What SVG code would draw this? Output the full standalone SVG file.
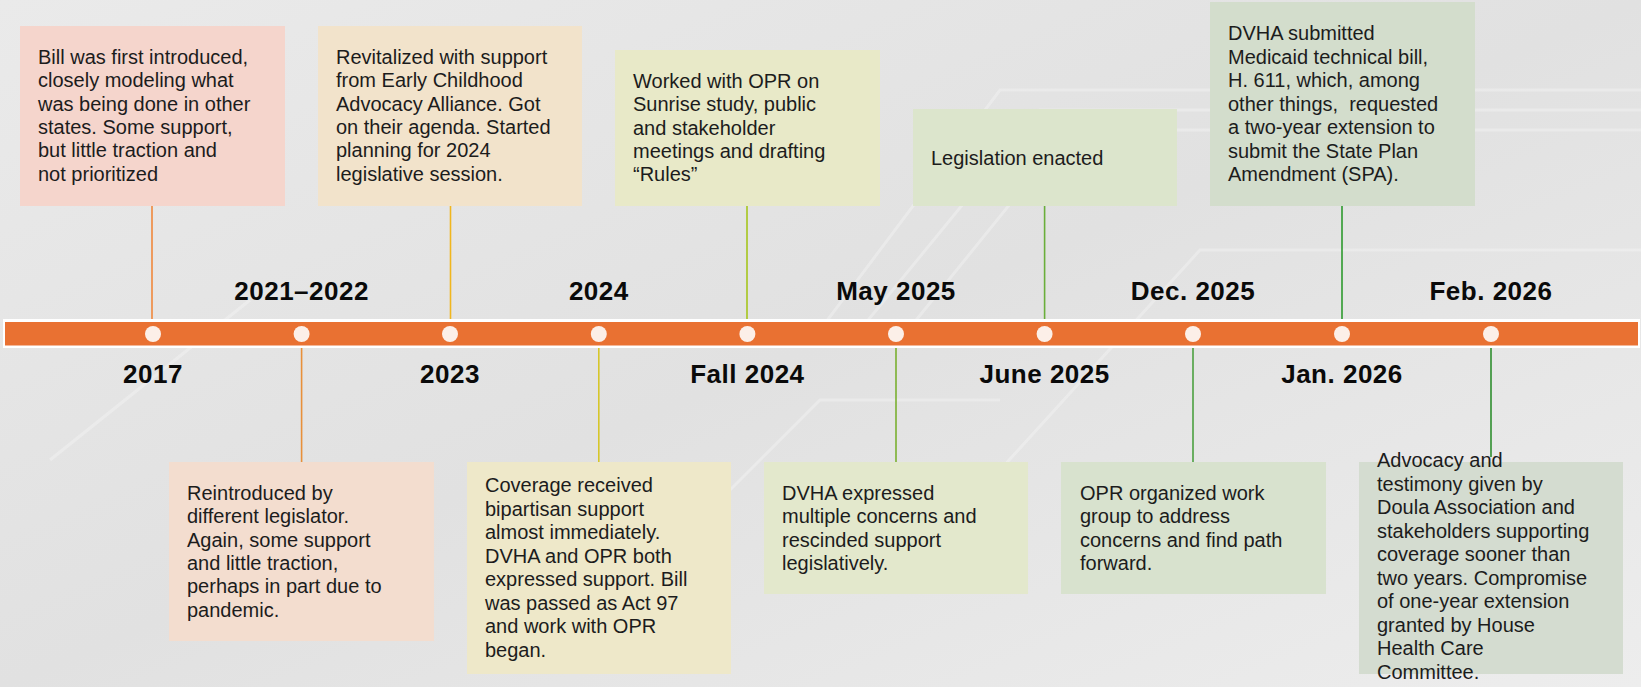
<svg xmlns="http://www.w3.org/2000/svg" width="1641" height="687" viewBox="0 0 1641 687">
<defs>
<linearGradient id="bg" x1="0" y1="0" x2="1" y2="1">
<stop offset="0" stop-color="#eaeaea"/>
<stop offset="0.5" stop-color="#e1e1e1"/>
<stop offset="1" stop-color="#ededed"/>
</linearGradient>
<style>
.box{stroke:none}
.t{font-family:"Liberation Sans",Arial,sans-serif;font-size:20px;fill:#1c1c1c}
.lbl{font-family:"Liberation Sans",Arial,sans-serif;font-weight:bold;font-size:26px;letter-spacing:0.5px;fill:#0a0a0a;text-anchor:middle}
.con{stroke-width:1.6;fill:none}
.dot{fill:#fcefe8}
</style>
</defs>
<rect x="0" y="0" width="1641" height="687" fill="url(#bg)"/>
<g opacity="0.28" stroke="#ffffff" stroke-width="3" fill="none">
<path d="M820 330 L1000 90 L1641 90"/>
<path d="M860 330 L1040 110 L1641 110"/>
<path d="M900 340 L1070 130 L1641 130"/>
<path d="M1000 470 L1200 250 L1641 250"/>
<path d="M600 620 L820 400 L1000 400"/>
<path d="M50 460 L250 300"/>
</g>

<g id="timeline">
<rect x="3" y="319" width="1637" height="29" fill="#ffffff"/>
<rect x="5" y="322" width="1633" height="23.5" fill="#e97132"/>
<circle class="dot" cx="153" cy="334" r="8"/>
<circle class="dot" cx="301.6" cy="334" r="8"/>
<circle class="dot" cx="450" cy="334" r="8"/>
<circle class="dot" cx="598.8" cy="334" r="8"/>
<circle class="dot" cx="747.4" cy="334" r="8"/>
<circle class="dot" cx="896" cy="334" r="8"/>
<circle class="dot" cx="1044.6" cy="334" r="8"/>
<circle class="dot" cx="1193" cy="334" r="8"/>
<circle class="dot" cx="1342" cy="334" r="8"/>
<circle class="dot" cx="1491" cy="334" r="8"/>
</g>

<g id="labels">
<text class="lbl" x="153" y="383">2017</text>
<text class="lbl" x="301.6" y="300">2021–2022</text>
<text class="lbl" x="450" y="383">2023</text>
<text class="lbl" x="598.8" y="300">2024</text>
<text class="lbl" x="747.4" y="383">Fall 2024</text>
<text class="lbl" x="896" y="300">May 2025</text>
<text class="lbl" x="1044.6" y="383">June 2025</text>
<text class="lbl" x="1193" y="300">Dec. 2025</text>
<text class="lbl" x="1342" y="383">Jan. 2026</text>
<text class="lbl" x="1491" y="300">Feb. 2026</text>
</g>

<g id="connectors">
<line class="con" x1="152" y1="206" x2="152" y2="319" stroke="#f0883c"/>
<line class="con" x1="450.5" y1="206" x2="450.5" y2="319" stroke="#f0b61e"/>
<line class="con" x1="747" y1="206" x2="747" y2="319" stroke="#a6c61c"/>
<line class="con" x1="1044.6" y1="206" x2="1044.6" y2="319" stroke="#6aae3a"/>
<line class="con" x1="1342" y1="206" x2="1342" y2="319" stroke="#2e9a2e"/>
<line class="con" x1="301.6" y1="348" x2="301.6" y2="462" stroke="#e8903a"/>
<line class="con" x1="598.8" y1="348" x2="598.8" y2="462" stroke="#d6c62a"/>
<line class="con" x1="896" y1="348" x2="896" y2="462" stroke="#7ab030"/>
<line class="con" x1="1193" y1="348" x2="1193" y2="462" stroke="#4ca040"/>
<line class="con" x1="1491" y1="348" x2="1491" y2="457" stroke="#2f8f2f"/>
</g>

<g id="n2017">
<rect class="box" x="20" y="26" width="265" height="180" fill="#f5d5cc"/>
<text class="t"><tspan x="38" y="64">Bill was first introduced,</tspan><tspan x="38" y="87.3">closely modeling what</tspan><tspan x="38" y="110.6">was being done in other</tspan><tspan x="38" y="133.9">states. Some support,</tspan><tspan x="38" y="157.2">but little traction and</tspan><tspan x="38" y="180.5">not prioritized</tspan></text>
</g>

<g id="n2021">
<rect class="box" x="169" y="462" width="265" height="179" fill="#f3ddcf"/>
<text class="t"><tspan x="187" y="500">Reintroduced by</tspan><tspan x="187" y="523.3">different legislator.</tspan><tspan x="187" y="546.6">Again, some support</tspan><tspan x="187" y="569.9">and little traction,</tspan><tspan x="187" y="593.2">perhaps in part due to</tspan><tspan x="187" y="616.5">pandemic.</tspan></text>
</g>

<g id="n2023">
<rect class="box" x="318" y="26" width="264" height="180" fill="#f2e3cb"/>
<text class="t"><tspan x="336" y="64">Revitalized with support</tspan><tspan x="336" y="87.3">from Early Childhood</tspan><tspan x="336" y="110.6">Advocacy Alliance. Got</tspan><tspan x="336" y="133.9">on their agenda. Started</tspan><tspan x="336" y="157.2">planning for 2024</tspan><tspan x="336" y="180.5">legislative session.</tspan></text>
</g>

<g id="n2024">
<rect class="box" x="467" y="462" width="264" height="212" fill="#eee8c9"/>
<text class="t"><tspan x="485" y="492">Coverage received</tspan><tspan x="485" y="515.5">bipartisan support</tspan><tspan x="485" y="539">almost immediately.</tspan><tspan x="485" y="562.5">DVHA and OPR both</tspan><tspan x="485" y="586">expressed support. Bill</tspan><tspan x="485" y="609.5">was passed as Act 97</tspan><tspan x="485" y="633">and work with OPR</tspan><tspan x="485" y="656.5">began.</tspan></text>
</g>

<g id="nFall2024">
<rect class="box" x="615" y="50" width="265" height="156" fill="#e8e9c8"/>
<text class="t"><tspan x="633" y="88">Worked with OPR on</tspan><tspan x="633" y="111.3">Sunrise study, public</tspan><tspan x="633" y="134.6">and stakeholder</tspan><tspan x="633" y="157.9">meetings and drafting</tspan><tspan x="633" y="181.2">“Rules”</tspan></text>
</g>

<g id="nMay2025">
<rect class="box" x="764" y="462" width="264" height="132" fill="#e3e8cc"/>
<text class="t"><tspan x="782" y="500">DVHA expressed</tspan><tspan x="782" y="523.3">multiple concerns and</tspan><tspan x="782" y="546.6">rescinded support</tspan><tspan x="782" y="569.9">legislatively.</tspan></text>
</g>

<g id="nJune2025">
<rect class="box" x="913" y="109" width="264" height="97" fill="#dce5cc"/>
<text class="t" x="931" y="165">Legislation enacted</text>
</g>

<g id="nDec2025">
<rect class="box" x="1061" y="462" width="265" height="132" fill="#d8e2ce"/>
<text class="t"><tspan x="1080" y="500">OPR organized work</tspan><tspan x="1080" y="523.3">group to address</tspan><tspan x="1080" y="546.6">concerns and find path</tspan><tspan x="1080" y="569.9">forward.</tspan></text>
</g>

<g id="nJan2026">
<rect class="box" x="1210" y="2" width="265" height="204" fill="#d3ddcc"/>
<text class="t" xml:space="preserve"><tspan x="1228" y="40">DVHA submitted</tspan><tspan x="1228" y="63.5">Medicaid technical bill,</tspan><tspan x="1228" y="87">H. 611, which, among</tspan><tspan x="1228" y="110.5">other things,  requested</tspan><tspan x="1228" y="134">a two-year extension to</tspan><tspan x="1228" y="157.5">submit the State Plan</tspan><tspan x="1228" y="181">Amendment (SPA).</tspan></text>
</g>

<g id="nFeb2026">
<rect class="box" x="1359" y="462" width="264" height="212" fill="#d4dcd0"/>
<text class="t"><tspan x="1377" y="467">Advocacy and</tspan><tspan x="1377" y="490.5">testimony given by</tspan><tspan x="1377" y="514">Doula Association and</tspan><tspan x="1377" y="537.5">stakeholders supporting</tspan><tspan x="1377" y="561">coverage sooner than</tspan><tspan x="1377" y="584.5">two years. Compromise</tspan><tspan x="1377" y="608">of one-year extension</tspan><tspan x="1377" y="631.5">granted by House</tspan><tspan x="1377" y="655">Health Care</tspan><tspan x="1377" y="678.5">Committee.</tspan></text>
</g>
</svg>
